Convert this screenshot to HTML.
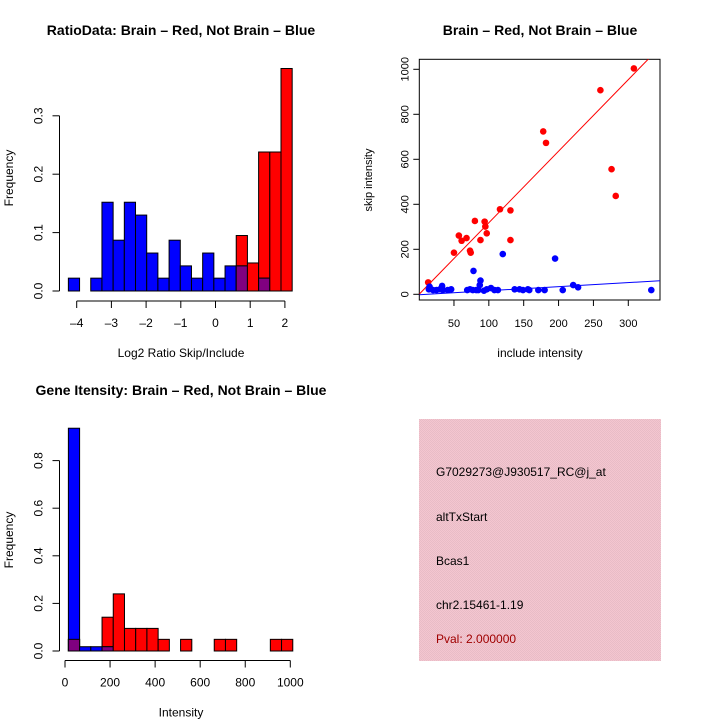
<!DOCTYPE html>
<html><head><meta charset="utf-8"><style>
body{margin:0;background:#fff}
svg{display:block;font-family:"Liberation Sans",sans-serif}
</style></head><body>
<svg id="c" width="720" height="720" viewBox="0 0 720 720">
<rect x="0" y="0" width="720" height="720" fill="#fff"/>
<defs>
<pattern id="hatch" width="2" height="2" patternUnits="userSpaceOnUse">
<rect width="2" height="2" fill="#f4c6d0"/><rect width="1" height="1" fill="#e8bcc6"/><rect x="1" y="1" width="1" height="1" fill="#e8bcc6"/>
</pattern>
</defs>
<g id="g1"></g>
<g id="g2"></g>
<g id="g3"></g>
<g>
<rect x="419" y="419" width="242" height="242" fill="url(#hatch)"/>
<text x="436" y="476" font-size="12">G7029273@J930517_RC@j_at</text>
<text x="436" y="521" font-size="12">altTxStart</text>
<text x="436" y="565" font-size="12">Bcas1</text>
<text x="436" y="609" font-size="12">chr2.15461-1.19</text>
<text x="436" y="643" font-size="12" fill="#a00000">Pval: 2.000000</text>
</g>
</svg>
<script>
// ---- chart 1 data ----
const ratioBinStart = -4.24, ratioBinWidth = 0.3225;
const ratioBlue = [0.022,0,0.022,0.152,0.087,0.152,0.130,0.065,0.022,0.087,0.043,0.022,0.065,0.022,0.043,0.043,0,0.022,0,0];
const ratioRed  = [0,0,0,0,0,0,0,0,0,0,0,0,0,0,0,0.095,0.048,0.238,0.238,0.381];
const ratioXTicks = [-4,-3,-2,-1,0,1,2];
const ratioYTicks = [0,0.1,0.2,0.3];
// ---- chart 2 data ----
const redX = [13,50,57,61,68,73,74,80,88,94,95,97,116,131,131,178,182,260,276,282,308];
const redY = [53,185,261,238,250,194,185,326,241,323,301,271,378,373,241,724,673,907,556,437,1004];
const blueX = [15,14,20,25,30,33,34,41,46,69,73,77,82,85,87,88,93,97,103,108,113,120,78,137,144,149,156,158,171,180,195,206,221,228,333];
const blueY = [34,22,19,19,22,37,19,19,22,19,22,19,19,19,41,61,16,22,28,19,19,179,104,22,22,19,22,19,19,19,159,19,41,31,19];
const redFit = [0,3.18], blueFit = [-2,0.18];
const scatXTicks = [50,100,150,200,250,300];
const scatYTicks = [0,200,400,600,800,1000];
// ---- chart 3 data ----
const intBinStart = 15, intBinWidth = 49.8;
const intBlue = [0.936,0.018,0.018,0.018,0,0,0,0,0,0,0,0,0,0,0,0,0,0,0,0];
const intRed  = [0.049,0,0,0.142,0.24,0.095,0.095,0.095,0.049,0,0.049,0,0,0.049,0.049,0,0,0,0.049,0.049];
const intXTicks = [0,200,400,600,800,1000];
const intYTicks = [0,0.2,0.4,0.6,0.8];

const NS="http://www.w3.org/2000/svg";
function mk(p,tag,attrs,txt){const e=document.createElementNS(NS,tag);for(const k in attrs)e.setAttribute(k,attrs[k]);if(txt!==undefined)e.textContent=txt;p.appendChild(e);return e;}
function fmt(v,d){return v<0?'\u2013'+Math.abs(v).toFixed(d):v.toFixed(d);}

function hist(g,o){
  const sx=v=>o.x0+(v-o.xv0)*o.kx, sy=v=>o.y0-v*o.ky;
  for(let i=0;i<o.red.length;i++){
    const a=o.start+i*o.w,b=a+o.w;
    const r=o.red[i],bl=o.blue[i];
    if(r>0){const e=mk(g,'rect',{x:sx(a),y:sy(r),width:sx(b)-sx(a),height:sy(0)-sy(r),fill:'#ff0000',stroke:'#000','stroke-width':1});
      }
    if(bl>0){const e=mk(g,'rect',{x:sx(a),y:sy(bl),width:sx(b)-sx(a),height:sy(0)-sy(bl),fill:'#0000ff',stroke:'#000','stroke-width':1});
      }
    const m=Math.min(r,bl);
    if(m>0){const e=mk(g,'rect',{x:sx(a),y:sy(m),width:sx(b)-sx(a),height:sy(0)-sy(m),fill:'#800080',stroke:'#000','stroke-width':1});
      }
  }
  const xa=mk(g,'g',{});
  const xt=o.xticks;
  mk(xa,'line',{x1:sx(xt[0]),x2:sx(xt[xt.length-1]),y1:o.axY,y2:o.axY,stroke:'#000'});
  xt.forEach(v=>{mk(xa,'line',{x1:sx(v),x2:sx(v),y1:o.axY,y2:o.axY+7,stroke:'#000'});
    const t=mk(xa,'text',{x:sx(v),y:o.axY+26,'font-size':12,'text-anchor':'middle'},o.xfmt(v));
    });
  const ya=mk(g,'g',{});
  const yt=o.yticks;
  mk(ya,'line',{x1:o.axX,x2:o.axX,y1:sy(yt[0]),y2:sy(yt[yt.length-1]),stroke:'#000'});
  yt.forEach(v=>{mk(ya,'line',{x1:o.axX,x2:o.axX-7,y1:sy(v),y2:sy(v),stroke:'#000'});
    const t=mk(ya,'text',{x:0,y:0,'font-size':12,'text-anchor':'middle',transform:`translate(${o.axX-17},${sy(v)}) rotate(-90)`},v.toFixed(1));
    });
  let t=mk(g,'text',{x:o.titleX,y:o.titleY,'font-size':14,'font-weight':'bold','text-anchor':'middle'},o.title);
  
  t=mk(g,'text',{x:o.titleX,y:o.axY+56,'font-size':12,'text-anchor':'middle'},o.xlab);
  
  t=mk(g,'text',{x:0,y:0,'font-size':12,'text-anchor':'middle',transform:`translate(13,${o.ymid}) rotate(-90)`},'Frequency');
  
}

hist(document.getElementById('g1'),{x0:76.7,xv0:-4,kx:34.7,y0:291,ky:584,start:ratioBinStart,w:ratioBinWidth,
  red:ratioRed,blue:ratioBlue,xticks:ratioXTicks,yticks:ratioYTicks,axY:301,axX:59.5,xfmt:v=>fmt(v,0),
  title:'RatioData: Brain \u2013 Red, Not Brain \u2013 Blue',titleX:181,titleY:35,xlab:'Log2 Ratio Skip/Include',ymid:178});
hist(document.getElementById('g3'),{x0:65,xv0:0,kx:0.2253,y0:651,ky:238,start:intBinStart,w:intBinWidth,
  red:intRed,blue:intBlue,xticks:intXTicks,yticks:intYTicks,axY:660.5,axX:59.5,xfmt:v=>v.toFixed(0),
  title:'Gene Itensity: Brain \u2013 Red, Not Brain \u2013 Blue',titleX:181,titleY:395,xlab:'Intensity',ymid:540});

// scatter
(function(){
  const g=document.getElementById('g2');
  const L=419.3,R=660,T=59.3,B=300;
  const sx=v=>419.1+v*0.6973, sy=v=>294.3-v*0.225;
  mk(g,'rect',{x:L,y:T,width:R-L,height:B-T,fill:'none',stroke:'#000'});
  const cp=mk(g,'clipPath',{id:'clip2'});mk(cp,'rect',{x:L,y:T,width:R-L,height:B-T});
  const xmin=(L-419.1)/0.6973,xmax=(R-419.1)/0.6973;
  let l=mk(g,'line',{x1:sx(xmin),y1:sy(redFit[0]+redFit[1]*xmin),x2:sx(xmax),y2:sy(redFit[0]+redFit[1]*xmax),stroke:'#ff0000','clip-path':'url(#clip2)'});
  
  l=mk(g,'line',{x1:sx(xmin),y1:sy(blueFit[0]+blueFit[1]*xmin),x2:sx(xmax),y2:sy(blueFit[0]+blueFit[1]*xmax),stroke:'#0000ff','clip-path':'url(#clip2)'});
  
  redX.forEach((x,i)=>{const c=mk(g,'circle',{cx:sx(x),cy:sy(redY[i]),r:3.3,fill:'#ff0000'});
    });
  blueX.forEach((x,i)=>{const c=mk(g,'circle',{cx:sx(x),cy:sy(blueY[i]),r:3.3,fill:'#0000ff'});
    });
  scatXTicks.forEach(v=>{mk(g,'line',{x1:sx(v),x2:sx(v),y1:B,y2:B+6,stroke:'#000'});
    const t=mk(g,'text',{x:sx(v),y:B+27,'font-size':11,'text-anchor':'middle'},v);
    });
  scatYTicks.forEach(v=>{mk(g,'line',{x1:L,x2:L-6,y1:sy(v),y2:sy(v),stroke:'#000'});
    const t=mk(g,'text',{x:0,y:0,'font-size':11,'text-anchor':'middle',transform:`translate(${L-11},${sy(v)}) rotate(-90)`},v);
    });
  let t=mk(g,'text',{x:540,y:35,'font-size':14,'font-weight':'bold','text-anchor':'middle'},'Brain \u2013 Red, Not Brain \u2013 Blue');
  
  t=mk(g,'text',{x:540,y:357,'font-size':12,'text-anchor':'middle'},'include intensity');
  
  t=mk(g,'text',{x:0,y:0,'font-size':11,'text-anchor':'middle',transform:`translate(372,180) rotate(-90)`},'skip intensity');
  
})();
</script>
</body></html>
